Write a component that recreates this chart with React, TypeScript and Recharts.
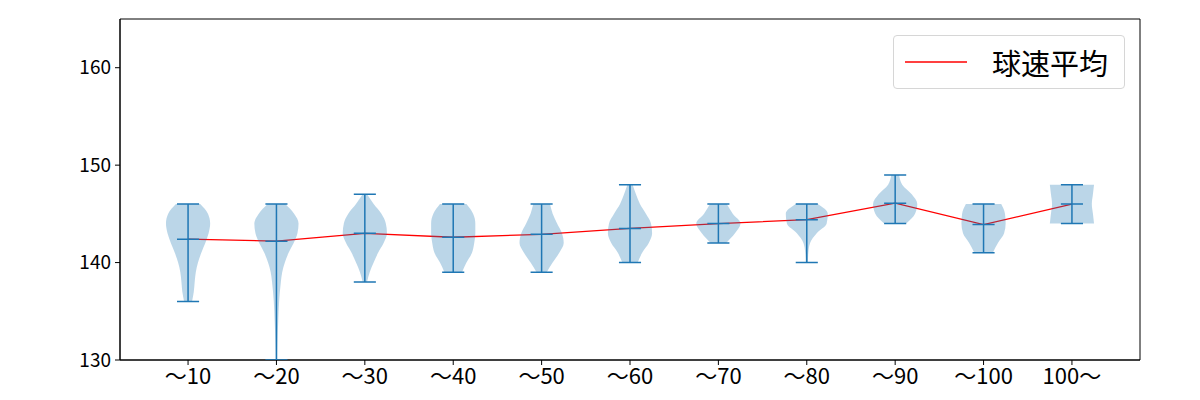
import React from 'react';
import {
  ComposedChart,
  XAxis,
  YAxis,
  Scatter,
  Line,
  Curve,
  ReferenceArea,
  Legend,
} from 'recharts';

const categories = ['～10', '～20', '～30', '～40', '～50', '～60', '～70', '～80', '～90', '～100', '100～'];
const speedMin = [136, 130, 138, 139, 139, 140, 142, 140, 144, 141, 144];
const speedMax = [146, 146, 147, 146, 146, 148, 146, 146, 149, 146, 148];
const speedMean = [142.4, 142.2, 143.0, 142.6, 142.9, 143.5, 144.0, 144.4, 146.1, 143.9, 146.0];

// relative violin width (0..1) at a given speed
const profile10 = [[136, 0.18], [137, 0.26], [138, 0.3], [139, 0.35], [140, 0.45], [141, 0.6], [142, 0.78], [143, 0.93], [144, 1.0], [145, 0.9], [146, 0.55]];
const profile20 = [[130, 0.03], [132, 0.05], [134, 0.08], [136, 0.12], [138, 0.2], [139, 0.26], [140, 0.38], [141, 0.55], [142, 0.78], [143, 0.95], [144, 1.0], [145, 0.8], [146, 0.4]];
const profile30 = [[138, 0.1], [139, 0.22], [140, 0.4], [141, 0.6], [142, 0.85], [143, 1.0], [144, 0.95], [145, 0.75], [146, 0.4], [147, 0.1]];
const profile40 = [[139, 0.4], [140, 0.6], [141, 0.85], [142, 0.95], [143, 1.0], [144, 1.0], [145, 0.9], [146, 0.6]];
const profile50 = [[139, 0.23], [140, 0.5], [141, 0.8], [142, 1.0], [143, 0.92], [144, 0.7], [145, 0.5], [146, 0.38]];
const profile60 = [[140, 0.35], [141, 0.55], [142, 0.85], [143, 1.0], [144, 0.95], [145, 0.72], [146, 0.45], [147, 0.27], [148, 0.12]];
const profile70 = [[142, 0.35], [143, 0.75], [144, 1.0], [145, 0.65], [146, 0.38]];
const profile80 = [[140, 0.05], [141, 0.07], [142, 0.15], [143, 0.45], [144, 0.9], [145, 0.95], [146, 0.5]];
const profile90 = [[144, 0.5], [145, 0.9], [146, 1.0], [147, 0.75], [148, 0.32], [149, 0.18]];
const profile100 = [[141, 0.42], [142, 0.65], [143, 0.93], [144, 1.0], [145, 0.97], [146, 0.8]];
const profileOver = [[144, 1.0], [145, 0.95], [146, 0.9], [147, 0.95], [148, 1.0]];

const profiles = [profile10, profile20, profile30, profile40, profile50, profile60, profile70, profile80, profile90, profile100, profileOver];

const yTicks = [130, 140, 150, 160];

const BLUE = '#1f77b4';
const FONT = '"Noto Sans CJK JP", sans-serif';
const VIOLIN_HALF = 0.25;
const CAP_HALF = 0.125;

// right edge top->bottom, then left edge top->bottom
const violinData = profiles.map((prof, i) => {
  const pos = i + 1;
  const desc = [...prof].sort((a, b) => b[0] - a[0]);
  const right = desc.map(([s, w]) => ({ x: pos + w * VIOLIN_HALF, y: s }));
  const left = desc.map(([s, w]) => ({ x: pos - w * VIOLIN_HALF, y: s }));
  return [...right, ...left];
});

// pairs of points: stem, min cap, max cap, mean cap
const whiskerData = categories.flatMap((_, i) => {
  const p = i + 1;
  return [
    { x: p, y: speedMin[i] }, { x: p, y: speedMax[i] },
    { x: p - CAP_HALF, y: speedMin[i] }, { x: p + CAP_HALF, y: speedMin[i] },
    { x: p - CAP_HALF, y: speedMax[i] }, { x: p + CAP_HALF, y: speedMax[i] },
    { x: p - CAP_HALF, y: speedMean[i] }, { x: p + CAP_HALF, y: speedMean[i] },
  ];
});

const meanData = categories.map((_, i) => ({ x: i + 1, y: speedMean[i] }));

const hiddenDot = () => <g />;

const violinBody = (props: any) => {
  const pts = props.points;
  const n = pts.length / 2;
  return (
    <Curve
      points={pts.slice(0, n)}
      baseLine={pts.slice(n)}
      layout="vertical"
      type="monotone"
      fill={BLUE}
      fillOpacity={0.3}
      stroke="none"
    />
  );
};

const whiskerLines = (props: any) => {
  const pts = props.points;
  let d = '';
  for (let i = 0; i + 1 < pts.length; i += 2) {
    d += `M${pts[i].x},${pts[i].y}L${pts[i + 1].x},${pts[i + 1].y}`;
  }
  return <path d={d} stroke={BLUE} strokeWidth={1.5} fill="none" />;
};

const renderLegend = () => (
  <div
    style={{
      width: 232,
      height: 54,
      boxSizing: 'border-box',
      border: '1px solid #d6d6d6',
      borderRadius: 4,
      background: 'rgba(255,255,255,0.8)',
      display: 'flex',
      alignItems: 'center',
      fontFamily: FONT,
      fontSize: 29,
      lineHeight: 1,
      color: '#000',
    }}
  >
    <svg width={98} height={10} style={{ flex: 'none' }}>
      <line x1={11} x2={73} y1={5} y2={5} stroke="#ff0000" strokeWidth={1.3} />
    </svg>
    <span>球速平均</span>
  </div>
);

export default function App() {
  return (
    <div style={{ position: 'absolute', left: 0, top: 0 }}>
      <ComposedChart
        width={1200}
        height={400}
        margin={{ top: 19, right: 60, bottom: 0, left: 0 }}
        style={{ fontFamily: FONT }}
      >
        <XAxis
          type="number"
          dataKey="x"
          domain={[0.23, 11.77]}
          ticks={categories.map((_, i) => i + 1)}
          tickFormatter={(v: number) => categories[v - 1] ?? ''}
          allowDataOverflow
          height={40}
          interval={0}
          tickSize={5}
          tickMargin={3}
          stroke="#000"
          tick={{ fill: '#000', fontSize: 22 }}
        />
        <YAxis
          type="number"
          domain={[130, 165]}
          ticks={yTicks}
          allowDataOverflow
          width={120}
          tickSize={5}
          tickMargin={4}
          stroke="#000"
          tick={{ fill: '#000', fontSize: 19 }}
        />
        <ReferenceArea x1={0.23} x2={11.77} y1={130} y2={165} fill="none" stroke="#000" strokeWidth={1} />
        {violinData.map((d, i) => (
          <Scatter
            key={categories[i]}
            data={d}
            dataKey="y"
            line={violinBody}
            shape={hiddenDot}
            legendType="none"
            isAnimationActive={false}
          />
        ))}
        <Scatter
          data={whiskerData}
          dataKey="y"
          line={whiskerLines}
          shape={hiddenDot}
          legendType="none"
          isAnimationActive={false}
        />
        <Line
          data={meanData}
          dataKey="y"
          name="球速平均"
          stroke="#ff0000"
          strokeWidth={1.3}
          dot={false}
          activeDot={false}
          isAnimationActive={false}
        />
        <Legend
          verticalAlign="middle"
          align="center"
          wrapperStyle={{ left: 893, top: 35, width: 232 }}
          content={renderLegend}
        />
      </ComposedChart>
    </div>
  );
}
